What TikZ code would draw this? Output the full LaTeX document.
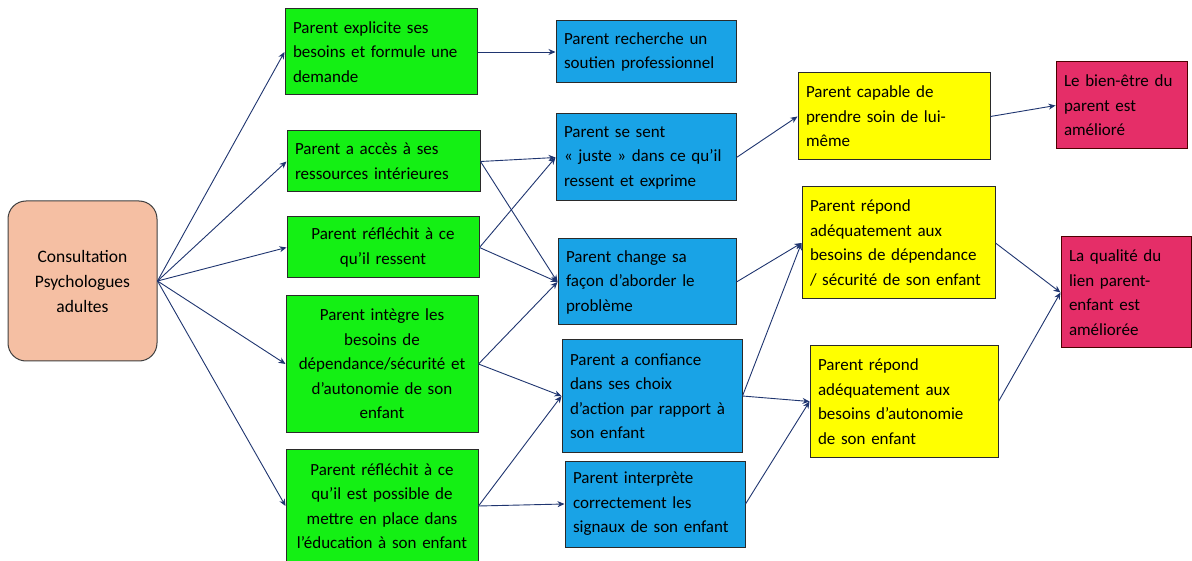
\documentclass[tikz,border=0pt]{standalone}
\usepackage{fontspec}
\setmainfont{Carlito}
\usetikzlibrary{arrows.meta}
\definecolor{cgreen}{HTML}{14F014}
\definecolor{cblue}{HTML}{19A3E6}
\definecolor{cyellow}{HTML}{FFFF00}
\definecolor{cred}{HTML}{E52E68}
\definecolor{csalmon}{HTML}{F5BFA3}
\definecolor{cnavy}{HTML}{1F3570}
\definecolor{cborder}{HTML}{2A2A2A}
\begin{document}
\begin{tikzpicture}[x=1pt,y=-1pt,
  box/.style={draw=cborder, line width=1pt, inner xsep=8pt, inner ysep=2pt,
    font=\fontsize{17}{24.5}\selectfont, anchor=center},
  lbox/.style={box, align=left},
  cbox/.style={box, align=center},
  gbox/.style={fill=cgreen},
  bbox/.style={fill=cblue},
  ybox/.style={fill=cyellow},
  rbox/.style={fill=cred, draw=black!70!red},
  arr/.style={draw=cnavy, line width=0.9pt, -{Stealth[length=7pt,width=6pt]}}
]
\useasboundingbox (0,0) rectangle (1192,561);
\fill[white] (0,0) rectangle (1192,561);

\node[cbox, fill=csalmon, draw=black!75, rounded corners=18pt, text width=133pt, minimum height=160pt, font=\fontsize{17.5}{25}\selectfont] (cons) at (82.5,281)
  {Consultation\\Psychologues\\adultes};

\node[lbox, gbox, text width=176pt, minimum height=86pt] (g1) at (381,52)
  {Parent explicite ses\\besoins et formule une\\demande};
\node[lbox, gbox, text width=177pt, minimum height=61pt] (g2) at (383.5,161.5)
  {Parent a accès à ses\\ressources intérieures};
\node[cbox, gbox, text width=176pt, minimum height=61pt] (g3) at (383,247.5)
  {Parent réfléchit à ce\\qu’il ressent};
\node[cbox, gbox, text width=176pt, minimum height=136pt] (g4) at (382,364)
  {Parent intègre les\\besoins de\\dépendance/sécurité et\\d’autonomie de son\\enfant};
\node[cbox, gbox, text width=176pt, minimum height=114pt] (g5) at (382,506)
  {Parent réfléchit à ce\\qu’il est possible de\\mettre en place dans\\l’éducation à son enfant};

\node[lbox, bbox, text width=164pt, minimum height=62pt] (b1) at (646,52)
  {Parent recherche un\\soutien professionnel};
\node[lbox, bbox, text width=164pt, minimum height=87pt] (b2) at (646,157.5)
  {Parent se sent\\« juste » dans ce qu’il\\ressent et exprime};
\node[lbox, bbox, text width=162pt, minimum height=86pt] (b3) at (647,282)
  {Parent change sa\\façon d’aborder le\\problème};
\node[lbox, bbox, text width=164pt, minimum height=112pt] (b4) at (652,396)
  {Parent a confiance\\dans ses choix\\d’action par rapport à\\son enfant};
\node[lbox, bbox, text width=164pt, minimum height=86pt] (b5) at (655,504)
  {Parent interprète\\correctement les\\signaux de son enfant};

\node[lbox, ybox, text width=176pt, minimum height=87pt] (y1) at (894,116.5)
  {Parent capable de\\prendre soin de lui-\\même};
\node[lbox, ybox, text width=177pt, minimum height=112pt] (y2) at (898.5,243)
  {Parent répond\\adéquatement aux\\besoins de dépendance\\/ sécurité de son enfant};
\node[lbox, ybox, text width=172pt, minimum height=111pt] (y3) at (904,401.5)
  {Parent répond\\adéquatement aux\\besoins d’autonomie\\de son enfant};

\node[lbox, rbox, text width=115pt, minimum height=87pt] (r1) at (1121.5,105.5)
  {Le bien-être du\\parent est\\amélioré};
\node[lbox, rbox, text width=114pt, minimum height=111pt] (r2) at (1126,292.5)
  {La qualité du\\lien parent-\\enfant est\\améliorée};

\foreach \t in {g1,g2,g3,g4,g5} \draw[arr] (cons.east) -- (\t.west);
\draw[arr] (g1.east) -- (b1.west);
\draw[arr] (g2.east) -- (b2.west);
\draw[arr] (g2.east) -- (b3.west);
\draw[arr] (g3.east) -- (b2.west);
\draw[arr] (g3.east) -- (b3.west);
\draw[arr] (g4.east) -- (b3.west);
\draw[arr] (g4.east) -- (b4.west);
\draw[arr] (g5.east) -- (b4.west);
\draw[arr] (g5.east) -- (b5.west);
\draw[arr] (b2.east) -- (y1.west);
\draw[arr] (b3.east) -- (y2.west);
\draw[arr] (b4.east) -- (y2.west);
\draw[arr] (b4.east) -- (y3.west);
\draw[arr] (b5.east) -- (y3.west);
\draw[arr] (y1.east) -- (r1.west);
\draw[arr] (y2.east) -- (r2.west);
\draw[arr] (y3.east) -- (r2.west);
\end{tikzpicture}
\end{document}
